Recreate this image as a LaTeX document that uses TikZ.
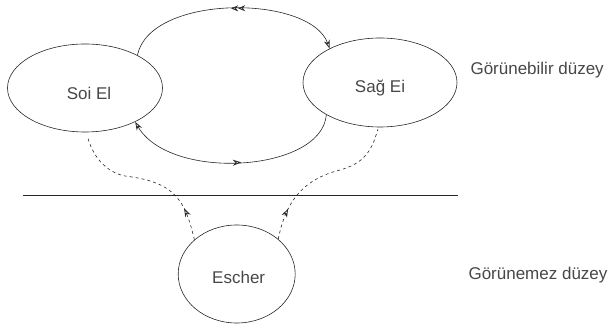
\documentclass[tikz,border=0pt]{standalone}
\usepackage{fontspec}
\setmainfont{Liberation Sans}
\usetikzlibrary{shapes.geometric,arrows.meta,decorations.markings}
\begin{document}
\begin{tikzpicture}[x=1pt,y=-1pt,
  every node/.style={font=\fontsize{17}{20}\selectfont, text=black!72},
  blob/.style={draw=black!85, line width=0.6pt, ellipse, inner sep=0pt},
  conn/.style={draw=black!85, line width=0.6pt},
  dconn/.style={conn, dash pattern=on 3pt off 3pt},
  tipa/.tip={Stealth[length=8.5pt,width=6pt,open,line width=0.8pt]},
  midfwd/.style={postaction={decorate,decoration={markings,
     mark=at position #1 with {\arrow{tipa}}}}},
  midrev/.style={postaction={decorate,decoration={markings,
     mark=at position #1 with {\arrowreversed{tipa}}}}},
  middouble/.style={postaction={decorate,decoration={markings,
     mark=at position #1 with {\arrowreversed{Stealth[length=7pt,width=6pt,open,line width=0.8pt] Stealth[length=7pt,width=6pt,open,line width=0.8pt]}}}}},
]
\useasboundingbox (0,0) rectangle (615,328);

\node[blob, minimum width=155pt, minimum height=88pt,
  label={[xshift=4pt,yshift=-5pt]center:Soi El}] (L) at (85,88) {};
\node[blob, minimum width=154pt, minimum height=89pt,
  label={[yshift=-6pt]center:Sağ Ei}] (R) at (380,82.5) {};
\node[blob, minimum width=117pt, minimum height=98pt,
  label={[xshift=2pt,yshift=-3pt]center:Escher}] (E) at (236.7,274) {};

\node[anchor=west] (t1) at (467,70) {Görünebilir düzey};
\node[anchor=west] (t2) at (465,275) {Görünemez düzey};

\coordinate (h1) at (23,195);
\coordinate (h2) at (458,195);
\draw[conn] (h1) -- (h2);

% top arc
\draw[conn, -tipa, middouble=0.5] (L.32) .. controls (150,-6) and (310,-6) .. (R.146);
% bottom arc
\draw[conn, -tipa, midrev=0.47] (R.211) .. controls (322,172) and (170,182) .. (L.326);

% dashed connectors
\draw[dconn, midfwd=0.2, shorten >=4pt] (E.141) .. controls (185,200) and (175,182) .. (125,176)
   .. controls (105,172) and (92,155) .. (L.272);
\draw[dconn, midfwd=0.2, shorten >=2pt] (E.40) .. controls (285,205) and (300,180) .. (340,170)
   .. controls (365,163) and (372,150) .. (R.268);
\end{tikzpicture}
\end{document}
